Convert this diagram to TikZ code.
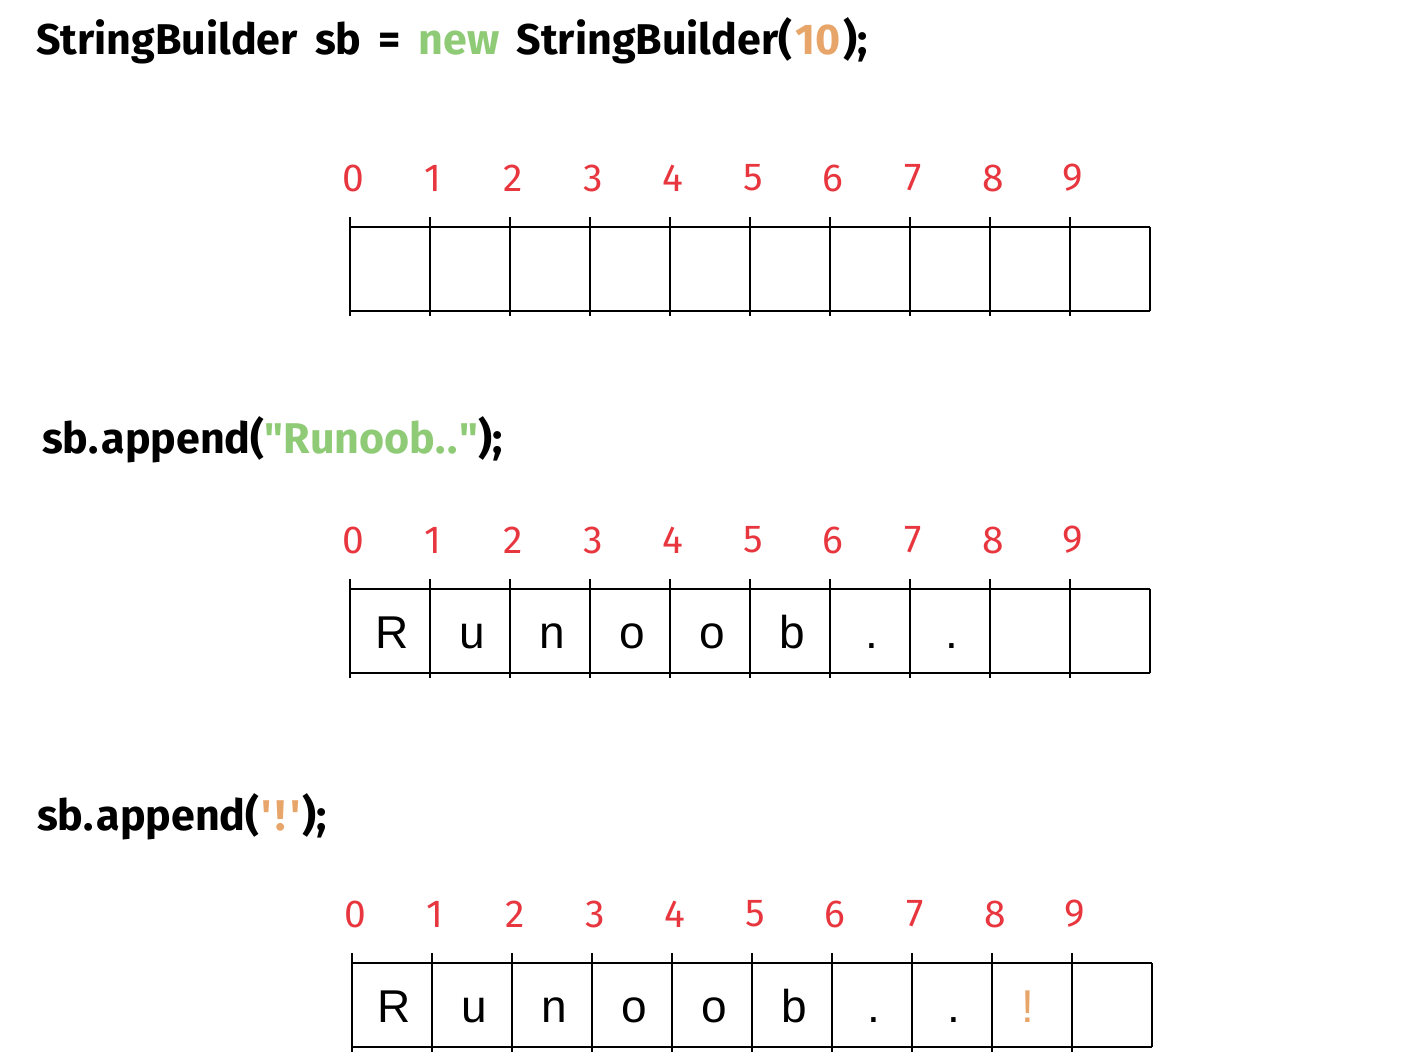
\documentclass[tikz,border=0pt]{standalone}
\usepackage{fontspec}
\setmainfont{Fira Sans}
\newfontfamily\codefont[Ligatures=TeXOff,WordSpace=1.7]{Fira Sans}
\newfontfamily\cellfont{Liberation Sans}
\usetikzlibrary{positioning}

\definecolor{codegreen}{HTML}{8FCB76}
\definecolor{codeorange}{HTML}{E8A56A}
\definecolor{idxred}{HTML}{E8363F}

\tikzset{
  gridline/.style={draw=black, line width=2.3pt},
  code/.style={anchor=base west, inner sep=0pt, font=\codefont\fontsize{43}{48}\selectfont\bfseries},
  idx/.style={inner sep=0pt, text=idxred, font=\fontsize{39}{42}\selectfont},
  cellchar/.style={anchor=base, inner sep=0pt, font=\cellfont\fontsize{46}{50}\selectfont}
}

% one row of ten cells: #1 = left x, #2 = top y
\newcommand{\cellrow}[2]{%
  \draw[gridline] (#1,#2) -- ++(800,0);
  \draw[gridline] (#1,#2+84) -- ++(800,0);
  \foreach \i in {0,...,9} {
    \draw[gridline] (#1+80*\i,#2-10) -- (#1+80*\i,#2+89);
    \node[idx] (idx\i) at (#1+80*\i+3,#2-49) {\i};
  }
  \draw[gridline] (#1+800,#2) -- (#1+800,#2+84);
}

\begin{document}
\begin{tikzpicture}[x=1pt,y=-1pt]
\useasboundingbox (0,0) rectangle (1424,1052);

%Code lines
\node[code] (newsb) at (36,54) {StringBuilder sb = {\color{codegreen}new} StringBuilder(\kern3pt{\color{codeorange}10}\kern3pt);\kern3pt};
\node[code] (appendstr) at (42,453) {sb.\kern3pt append({\color{codegreen}"Runoob.\kern2pt.\kern2pt"});};
\node[code] (appendchar) at (37,830) {sb.\kern3pt append(\kern2pt{\color{codeorange}'\kern4pt!\kern4pt'}\kern2pt);};

% empty buffer
\cellrow{350}{227}

% after appending the string
\cellrow{350}{589}
\foreach \c [count=\k from 0] in {R,u,n,o,o,b,.,.}
  \node[cellchar] (chA\k) at (350+40+80*\k+2,648) {\c};

% after appending the char
\cellrow{352}{963}
\foreach \c [count=\k from 0] in {R,u,n,o,o,b,.,.}
  \node[cellchar] (chB\k) at (352+40+80*\k+2,1022) {\c};
\node[cellchar, text=codeorange] (chB8) at (352+40+80*8-4,1022) {!};
\end{tikzpicture}
\end{document}
